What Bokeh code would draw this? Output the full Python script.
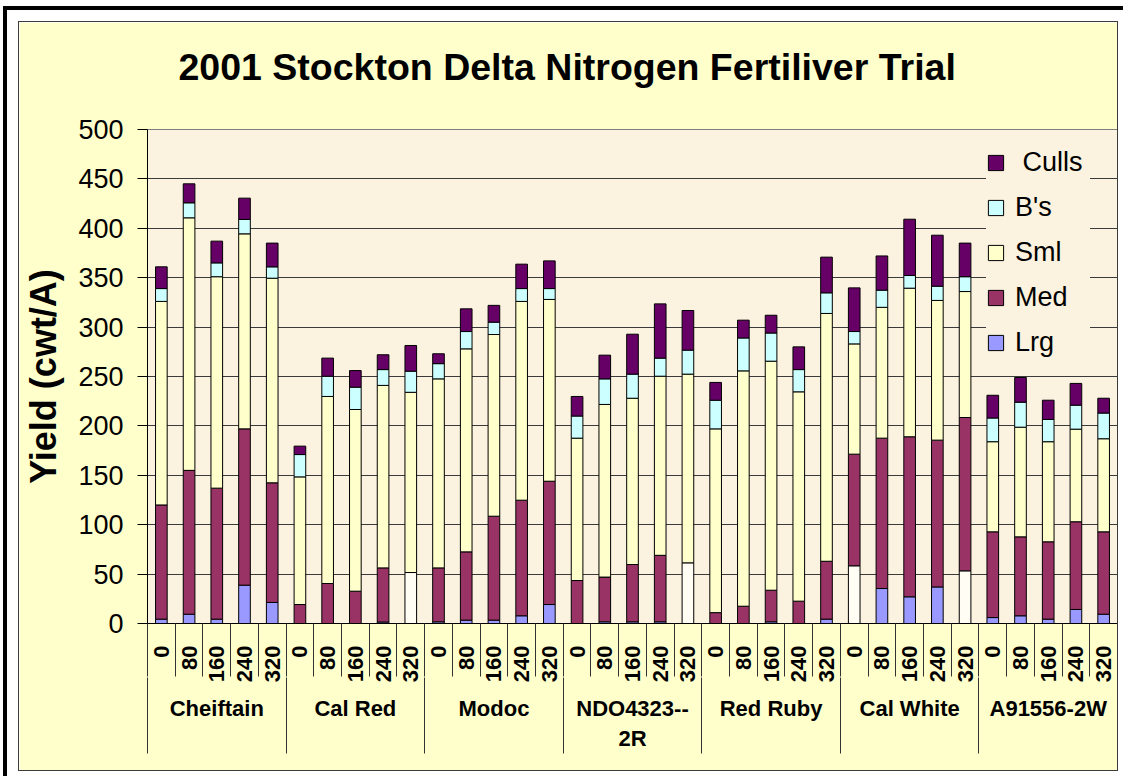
from math import pi
from bokeh.plotting import figure
from bokeh.models import (Range1d, FixedTicker, LinearAxis, Legend, LegendItem,
                          ColumnDataSource)
from bokeh.embed import file_html
from bokeh.resources import INLINE

# ---------------- data ----------------
groups = ["Cheiftain", "Cal Red", "Modoc", "NDO4323--\n2R", "Red Ruby", "Cal White", "A91556-2W"]
rates = ["0", "80", "160", "240", "320"]

series = ["Lrg", "Med", "Sml", "B's", "Culls"]
lrg = [4.4, 9.4, 4.4, 38.8, 21.3,
       0, 0, 0, 1.5, 0,
       1.7, 3.4, 3.4, 7.8, 19.2,
       0, 1.7, 1.7, 1.7, 0,
       0, 0, 1.7, 0, 4.4,
       58.4, 35.4, 27, 37, 53.3,
       6, 7.8, 4.4, 14.2, 9.4]
med = [115.6, 145.6, 132.6, 158.2, 121.1,
       19.2, 40.5, 32.7, 54.8, 51.6,
       54.6, 69.1, 105.2, 117, 124.8,
       43.5, 45.3, 58, 67.3, 61.4,
       11, 17.5, 32, 22.6, 58.6,
       113, 152.2, 162, 148.6, 155.2,
       86.8, 79.9, 78.3, 88.8, 83.4]
sml = [206, 255.6, 214, 197.4, 207.1,
       129.2, 189.3, 183.9, 184.7, 182.4,
       191.3, 205.5, 183.9, 201.2, 184,
       144.1, 174.7, 168.3, 181.3, 191,
       186, 238.2, 231.8, 211.9, 250.8,
       111.6, 132.4, 150.4, 141.4, 127.5,
       91.2, 111, 101.3, 93.7, 94.2]
bs = [13, 15.2, 14, 14.6, 11.5,
      22.6, 20.5, 22.6, 16, 21.4,
      15.4, 17.5, 12.5, 13, 11,
      22.4, 25.9, 24.4, 18.3, 24.3,
      29, 33.3, 28.5, 22.5, 20.9,
      12.5, 17.4, 12.8, 14.4, 15,
      24, 25.3, 22.5, 24.3, 26]
culls = [22, 19.2, 22, 21.5, 24,
         8.5, 18.3, 16.8, 15, 26,
         10, 23, 17, 24.7, 28,
         19.8, 24, 40.4, 54.9, 40.1,
         18, 18, 18, 23, 36.1,
         44.2, 34.6, 57, 51.6, 34,
         23, 25, 19.5, 22, 15]
yticks = list(range(0, 501, 50))

# segments drawn without their series fill in the original (series, bar index)
unfilled = [("Med", 9), ("Med", 19), ("Lrg", 25), ("Lrg", 29)]

# ---------------- styles ----------------
colors = {"Lrg": "#9999FF", "Med": "#993366", "Sml": "#FFFFCC", "B's": "#CCFFFF", "Culls": "#660066"}
pale = "#FFFDF4"
chart_bg = "#FFFFCC"
plot_bg = "#FBF2DF"
FONT = "Liberation Sans"

n = len(groups) * len(rates)
xs = list(range(1, n + 1))

p = figure(width=1100, height=750,
           x_range=Range1d(0.5, n + 0.5), y_range=Range1d(0, 500),
           x_axis_type=None, output_backend="svg", toolbar_location=None,
           min_border_left=128, min_border_right=2, min_border_top=107, min_border_bottom=149,
           background_fill_color=plot_bg, border_fill_color=chart_bg,
           outline_line_color="#808080", outline_line_width=1)
p.styles = {"border": "1px solid #3c3c3c",
            "transform": "translate(18px, 21px)",
            "box-shadow": "-1px -1px 0 10px #ffffff, -5px -5px 0 10px #000000"}

# invisible spacer between the plot area and the title
spacer = LinearAxis(ticker=FixedTicker(ticks=[1]), major_label_overrides={1: ""},
                    major_label_text_font_size="1px", major_label_standoff=0,
                    axis_line_color=None, major_tick_line_color=None, minor_tick_line_color=None,
                    major_tick_out=37, major_tick_in=0, minor_tick_out=0, minor_tick_in=0)
p.add_layout(spacer, "above")

# title
p.title.text = "2001 Stockton Delta Nitrogen Fertiliver Trial"
p.title.text_font = FONT
p.title.text_font_size = "37.5px"
p.title.text_font_style = "bold"
p.title.text_color = "black"
p.title.align = "left"
p.title.offset = 31
p.title.standoff = 10

# y axis
yt = FixedTicker(ticks=yticks)
ya = p.yaxis[0]
ya.ticker = yt
p.ygrid.ticker = yt
p.ygrid.grid_line_color = "#3a3a3a"
p.ygrid.grid_line_width = 1
ya.axis_label = "Yield (cwt/A)"
ya.axis_label_text_font = FONT
ya.axis_label_text_font_size = "36px"
ya.axis_label_text_font_style = "bold"
ya.axis_label_text_color = "black"
ya.axis_label_standoff = 11
ya.major_label_text_font = FONT
ya.major_label_text_font_size = "27px"
ya.major_label_text_color = "black"
ya.major_label_standoff = 14
ya.major_tick_out = 10
ya.major_tick_in = 0
ya.minor_tick_line_color = None
ya.axis_line_color = "black"
ya.major_tick_line_color = "black"

# stacked bars
data = {"Lrg": lrg, "Med": med, "Sml": sml, "B's": bs, "Culls": culls}
bottom = [0.0] * n
renderers = {}
for s in series:
    vals = data[s]
    top = [b + v for b, v in zip(bottom, vals)]
    fills = [colors[s]] * n
    for (us, ui) in unfilled:
        if us == s:
            fills[ui] = pale
    src = ColumnDataSource(dict(x=xs, bottom=bottom, top=top, fill=fills))
    renderers[s] = p.vbar(x="x", bottom="bottom", top="top", width=0.42, source=src,
                          fill_color="fill", line_color="black", line_width=1)
    bottom = top

# category axis: rates row
sep1 = 53
centers = xs
bounds = [i + 0.5 for i in range(0, n + 1)]
rate_labels = {c: rates[(c - 1) % len(rates)] for c in centers}
ax1 = LinearAxis(ticker=FixedTicker(ticks=centers, minor_ticks=bounds),
                 major_label_overrides=rate_labels,
                 major_label_orientation=pi / 2,
                 major_label_text_font=FONT, major_label_text_font_size="22px",
                 major_label_text_font_style="bold", major_label_text_color="black",
                 major_label_standoff=22 - sep1,
                 major_tick_line_color=None, major_tick_out=0, major_tick_in=0,
                 minor_tick_out=sep1, minor_tick_in=0, minor_tick_line_color="#333333",
                 axis_line_color="black")
p.add_layout(ax1, "below")

# category axis: group row
sep2 = 68
k = len(rates)
gcenters = [g * k + (k + 1) / 2 for g in range(len(groups))]
gbounds = [g * k + 0.5 for g in range(len(groups) + 1)]
glabels = {c: name for c, name in zip(gcenters, groups)}
ax2 = LinearAxis(ticker=FixedTicker(ticks=gcenters, minor_ticks=gbounds),
                 major_label_overrides=glabels,
                 major_label_orientation="horizontal",
                 major_label_text_font=FONT, major_label_text_font_size="22px",
                 major_label_text_font_style="bold", major_label_text_color="black",
                 major_label_standoff=10 - sep2,
                 major_tick_line_color=None, major_tick_out=0, major_tick_in=0,
                 minor_tick_out=sep2, minor_tick_in=8, minor_tick_line_color="#333333",
                 axis_line_color=None)
p.add_layout(ax2, "below")

# legend
items = [LegendItem(label=(" " + s if s == "Culls" else s), renderers=[renderers[s]], index=0)
         for s in reversed(series)]
legend = Legend(items=items, location=(839, 265), background_fill_color=plot_bg,
                background_fill_alpha=1.0, border_line_color=None,
                label_text_font=FONT, label_text_font_size="27px", label_text_color="black",
                glyph_width=19, glyph_height=19, label_height=31, label_width=75, spacing=14,
                padding=10, margin=0, label_standoff=10)
p.add_layout(legend)

open("out.html", "w").write(file_html(p, INLINE))
